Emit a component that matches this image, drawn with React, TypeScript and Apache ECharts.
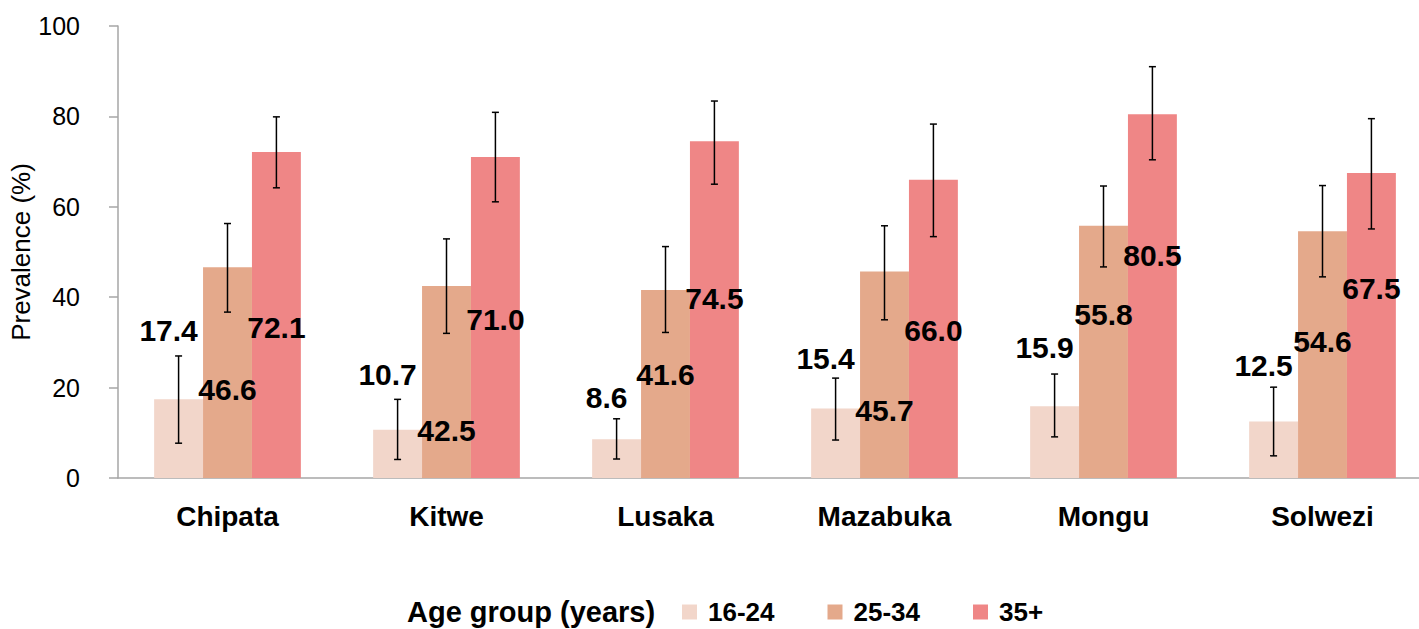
import React, { useEffect, useRef } from "react";
import * as echarts from "echarts";

const categories = ["Chipata", "Kitwe", "Lusaka", "Mazabuka", "Mongu", "Solwezi"];
const seriesNames = ["16-24", "25-34", "35+"];

const v16 = [17.4, 10.7, 8.6, 15.4, 15.9, 12.5];
const v25 = [46.6, 42.5, 41.6, 45.7, 55.8, 54.6];
const v35 = [72.1, 71.0, 74.5, 66.0, 80.5, 67.5];

const lo16 = [7.7, 4.1, 4.2, 8.4, 9.1, 4.9];
const hi16 = [27.0, 17.4, 13.1, 22.1, 23.0, 20.1];
const lo25 = [36.7, 32.0, 32.2, 35.0, 46.7, 44.5];
const hi25 = [56.3, 52.9, 51.2, 55.8, 64.6, 64.7];
const lo35 = [64.2, 61.1, 65.0, 53.4, 70.4, 55.1];
const hi35 = [79.9, 80.9, 83.4, 78.3, 91.0, 79.5];

// where each value label sits, in axis units
const labelY16 = [32.7, 22.8, 17.7, 26.5, 28.8, 25.0];
const labelY25 = [19.5, 10.6, 22.8, 15.0, 36.1, 30.1];
const labelY35 = [33.4, 35.0, 39.8, 32.7, 49.3, 42.0];

const yTicks = [0, 20, 40, 60, 80, 100];

const colors = ["#f2d6ca", "#e4a98b", "#ef8686"];
const FONT = '"Liberation Sans", Arial, Helvetica, sans-serif';
const CAT_GAP = 0.33;

function errSeries(
  name: string,
  k: number,
  vals: number[],
  lo: number[],
  hi: number[],
  labY: number[],
  dx: number
) {
  return {
    type: "custom",
    name,
    z: 5,
    data: categories.map((_, i) => [i, lo[i], hi[i], labY[i], vals[i]]),
    encode: { x: 0, y: [1, 2] },
    renderItem: (params: any, api: any) => {
      const i = api.value(0);
      const band = api.size([1, 0])[0];
      const barW = (band * (1 - CAT_GAP)) / 3;
      const cx = api.coord([i, 0])[0] + (k - 1) * barW;
      const yLo = api.coord([i, api.value(1)])[1];
      const yHi = api.coord([i, api.value(2)])[1];
      const yLab = api.coord([i, api.value(3)])[1];
      const cap = 3.5;
      const st = { stroke: "#000", lineWidth: 1.5 };
      return {
        type: "group",
        children: [
          { type: "line", shape: { x1: cx, y1: yLo, x2: cx, y2: yHi }, style: st },
          { type: "line", shape: { x1: cx - cap, y1: yLo, x2: cx + cap, y2: yLo }, style: st },
          { type: "line", shape: { x1: cx - cap, y1: yHi, x2: cx + cap, y2: yHi }, style: st },
          {
            type: "text",
            x: cx + dx,
            y: yLab,
            style: {
              text: Number(api.value(4)).toFixed(1),
              fill: "#000",
              font: `bold 30px ${FONT}`,
              align: "center",
              verticalAlign: "middle",
            },
          },
        ],
      };
    },
  };
}

export default function App() {
  const ref = useRef<HTMLDivElement>(null);
  useEffect(() => {
    document.body.style.margin = "0";
    const chart = echarts.init(ref.current!, null, { renderer: "svg" });
    const barBase = {
      type: "bar",
      barGap: "0%",
      barCategoryGap: `${CAT_GAP * 100}%`,
    };
    chart.setOption({
      animation: false,
      backgroundColor: "#fff",
      grid: {
        left: 118,
        right: -13,
        top: 26,
        bottom: 151,
        containLabel: false,
        outerBoundsMode: "none",
      },
      legend: {
        data: seriesNames,
        left: 682,
        top: 598,
        padding: 0,
        icon: "rect",
        itemWidth: 15,
        itemHeight: 15,
        itemGap: 53,
        textStyle: {
          fontSize: 26,
          lineHeight: 28,
          fontWeight: "bold",
          color: "#000",
          fontFamily: FONT,
          padding: [0, 0, 0, 6],
        },
      },
      graphic: [
        {
          type: "text",
          left: 407,
          top: 597,
          style: {
            text: "Age group (years)",
            fill: "#000",
            font: `bold 29px ${FONT}`,
          },
        },
      ],
      xAxis: {
        type: "category",
        data: categories,
        axisLine: { lineStyle: { color: "#a6a6a6", width: 1.5 } },
        axisTick: { show: false },
        axisLabel: {
          margin: 24,
          fontSize: 28,
          fontWeight: "bold",
          color: "#000",
          fontFamily: FONT,
        },
      },
      yAxis: {
        type: "value",
        min: yTicks[0],
        max: yTicks[yTicks.length - 1],
        interval: 20,
        name: "Prevalence (%)",
        nameLocation: "middle",
        nameGap: 84,
        nameMoveOverlap: false,
        nameTextStyle: { fontSize: 26, color: "#000", fontFamily: FONT },
        axisLine: { show: true, lineStyle: { color: "#a6a6a6", width: 1.5 } },
        axisTick: { show: true, length: 9, lineStyle: { color: "#a6a6a6", width: 1.5 } },
        splitLine: { show: false },
        axisLabel: { margin: 38, fontSize: 25, color: "#000", fontFamily: FONT },
      },
      series: [
        { ...barBase, name: seriesNames[0], data: v16, itemStyle: { color: colors[0] } },
        { ...barBase, name: seriesNames[1], data: v25, itemStyle: { color: colors[1] } },
        { ...barBase, name: seriesNames[2], data: v35, itemStyle: { color: colors[2] } },
        errSeries("err16", 0, v16, lo16, hi16, labelY16, -10),
        errSeries("err25", 1, v25, lo25, hi25, labelY25, 0),
        errSeries("err35", 2, v35, lo35, hi35, labelY35, 0),
      ],
    });
    return () => chart.dispose();
  }, []);
  return <div ref={ref} style={{ width: 1419, height: 629 }} />;
}
